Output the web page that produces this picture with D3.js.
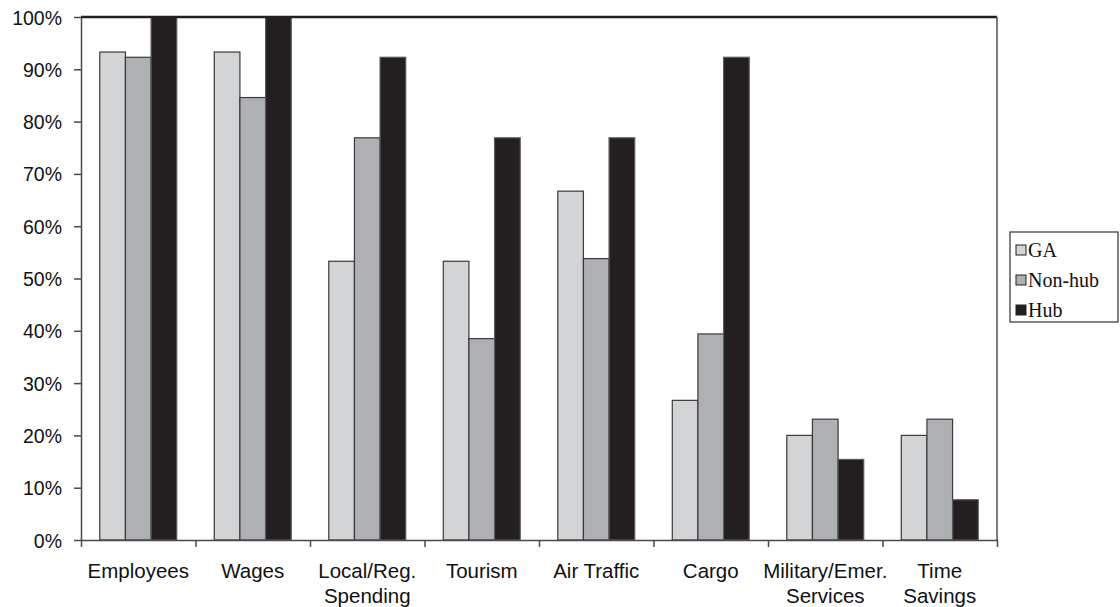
<!DOCTYPE html>
<html>
<head>
<meta charset="utf-8">
<script src="https://cdn.jsdelivr.net/npm/d3@7"></script>
<style>
  html, body { margin: 0; padding: 0; background: #fff; }
  svg { display: block; }
</style>
</head>
<body>
<svg id="chart" width="1120" height="607"></svg>
<script>
// Share of airports reporting each type of economic impact, by airport class
const categories = ["Employees", "Wages", "Local/Reg.\nSpending", "Tourism", "Air Traffic", "Cargo", "Military/Emer.\nServices", "Time\nSavings"];
const seriesNames = ["GA", "Non-hub", "Hub"];
const gaValues = [93.3, 93.3, 53.3, 53.3, 66.7, 26.7, 20.0, 20.0];
const nonHubValues = [92.3, 84.6, 76.9, 38.5, 53.8, 39.4, 23.1, 23.1];
const hubValues = [100, 100, 92.3, 76.9, 76.9, 92.3, 15.4, 7.7];
const yTicks = [0, 10, 20, 30, 40, 50, 60, 70, 80, 90, 100];

const seriesValues = [gaValues, nonHubValues, hubValues];
const fills = ["#d3d4d6", "#afb0b3", "#231f20"];

const svg = d3.select("#chart");
const margin = { left: 81, top: 17, right: 997, bottom: 540 };
const W = margin.right - margin.left;
const H = margin.bottom - margin.top;

const g = svg.append("g").attr("transform", `translate(${margin.left},${margin.top})`);

const x0 = d3.scaleBand().domain(categories).range([0, W])
  .paddingInner(0.328).paddingOuter(0.164);
const x1 = d3.scaleBand().domain(seriesNames).range([0, x0.bandwidth()]);
const y = d3.scaleLinear().domain([0, 100]).range([H, 0]);

// bars
const groups = g.selectAll("g.cat").data(categories).join("g")
  .attr("class", "cat")
  .attr("transform", d => `translate(${x0(d)},0)`);

groups.selectAll("rect")
  .data((d, i) => seriesNames.map((s, k) => ({ s, k, v: seriesValues[k][i] })))
  .join("rect")
  .attr("x", d => x1(d.s))
  .attr("y", d => y(d.v))
  .attr("width", x1.bandwidth())
  .attr("height", d => H - y(d.v))
  .attr("fill", d => fills[d.k])
  .attr("stroke", d => d.k === 2 ? "#5a5858" : "#3a3a3a")
  .attr("stroke-width", 1.2);

// frame: heavy top rule, right edge
g.append("line").attr("x1", 0).attr("x2", W).attr("y1", 0).attr("y2", 0)
  .attr("stroke", "#231f20").attr("stroke-width", 2.5);
g.append("line").attr("x1", W).attr("x2", W).attr("y1", 0).attr("y2", H)
  .attr("stroke", "#505050").attr("stroke-width", 1.5);

// y axis
const yAxis = g.append("g")
  .call(d3.axisLeft(y).tickValues(yTicks).tickFormat(d => d + "%")
    .tickSize(7).tickSizeOuter(0).tickPadding(12));
yAxis.select(".domain").attr("stroke", "#4a4a4a").attr("stroke-width", 1.5);
yAxis.selectAll(".tick line").attr("stroke", "#4a4a4a").attr("stroke-width", 1.5);
yAxis.selectAll(".tick text")
  .attr("font-family", "'Liberation Sans', Arial, sans-serif")
  .attr("font-size", 19.5).attr("fill", "#111").attr("dy", "0.36em");

// x axis: boundary ticks between categories
const xIdx = d3.scaleLinear().domain([0, categories.length]).range([0, W]);
const xTickAxis = g.append("g").attr("transform", `translate(0,${H})`)
  .call(d3.axisBottom(xIdx).tickValues(d3.range(categories.length + 1))
    .tickFormat("").tickSize(7).tickSizeOuter(0));
xTickAxis.select(".domain").attr("stroke", "#4a4a4a").attr("stroke-width", 1.5);
xTickAxis.selectAll(".tick line").attr("stroke", "#4a4a4a").attr("stroke-width", 1.5);

// x axis: category labels
const xLabelAxis = g.append("g").attr("transform", `translate(0,${H})`)
  .call(d3.axisBottom(x0).tickSize(0).tickSizeOuter(0));
xLabelAxis.select(".domain").remove();
xLabelAxis.selectAll(".tick text").each(function (d) {
  const t = d3.select(this);
  t.text(null).attr("y", 0).attr("dy", null)
    .attr("font-family", "'Liberation Sans', Arial, sans-serif")
    .attr("font-size", 20.5).attr("fill", "#111");
  d.split("\n").forEach((line, i) => {
    t.append("tspan").attr("x", 0).attr("y", 38 + i * 25).text(line);
  });
});

// legend
const legend = svg.append("g").attr("transform", "translate(1010,232)");
legend.append("rect").attr("x", 0).attr("y", 0).attr("width", 108).attr("height", 90)
  .attr("fill", "#fff").attr("stroke", "#333").attr("stroke-width", 1.2);
seriesNames.forEach((s, k) => {
  const row = legend.append("g").attr("transform", `translate(6,${25 + k * 30})`);
  row.append("rect").attr("x", 0).attr("y", -12).attr("width", 10).attr("height", 10)
    .attr("fill", fills[k]).attr("stroke", "#222").attr("stroke-width", 1);
  row.append("text").attr("x", 12).attr("y", 0)
    .attr("font-family", "'Liberation Serif', 'Times New Roman', serif")
    .attr("font-size", 20).attr("fill", "#111").text(s);
});
</script>
</body>
</html>
